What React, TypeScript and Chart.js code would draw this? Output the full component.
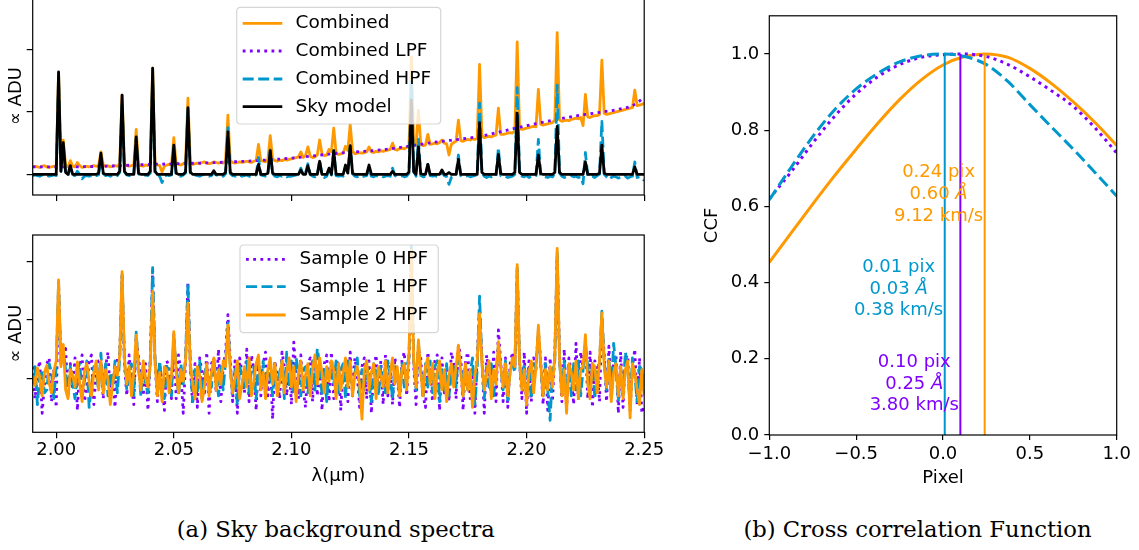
import React, { useEffect, useRef } from 'react';
import { Chart, registerables } from 'chart.js';

Chart.register(...registerables);

const FONT = "'DejaVu Sans', sans-serif";
const SERIF = "'DejaVu Serif', serif";
const ORANGE = '#ff9900';
const BLUE = '#0097cc';
const PURPLE = '#7f00ff';
const BLACK = '#000000';

// ---------- wavelength grid (µm) ----------
const LAMBDA = [
  1.990, 1.991, 1.992, 1.993, 1.994, 1.995, 1.996, 1.997, 1.998, 1.999,
  2.000, 2.001, 2.002, 2.003, 2.004, 2.005, 2.006, 2.007, 2.008, 2.009,
  2.010, 2.011, 2.012, 2.013, 2.014, 2.015, 2.016, 2.017, 2.018, 2.019,
  2.020, 2.021, 2.022, 2.023, 2.024, 2.025, 2.026, 2.027, 2.028, 2.029,
  2.030, 2.031, 2.032, 2.033, 2.034, 2.035, 2.036, 2.037, 2.038, 2.039,
  2.040, 2.041, 2.042, 2.043, 2.044, 2.045, 2.046, 2.047, 2.048, 2.049,
  2.050, 2.051, 2.052, 2.053, 2.054, 2.055, 2.056, 2.057, 2.058, 2.059,
  2.060, 2.061, 2.062, 2.063, 2.064, 2.065, 2.066, 2.067, 2.068, 2.069,
  2.070, 2.071, 2.072, 2.073, 2.074, 2.075, 2.076, 2.077, 2.078, 2.079,
  2.080, 2.081, 2.082, 2.083, 2.084, 2.085, 2.086, 2.087, 2.088, 2.089,
  2.090, 2.091, 2.092, 2.093, 2.094, 2.095, 2.096, 2.097, 2.098, 2.099,
  2.100, 2.101, 2.102, 2.103, 2.104, 2.105, 2.106, 2.107, 2.108, 2.109,
  2.110, 2.111, 2.112, 2.113, 2.114, 2.115, 2.116, 2.117, 2.118, 2.119,
  2.120, 2.121, 2.122, 2.123, 2.124, 2.125, 2.126, 2.127, 2.128, 2.129,
  2.130, 2.131, 2.132, 2.133, 2.134, 2.135, 2.136, 2.137, 2.138, 2.139,
  2.140, 2.141, 2.142, 2.143, 2.144, 2.145, 2.146, 2.147, 2.148, 2.149,
  2.150, 2.151, 2.152, 2.153, 2.154, 2.155, 2.156, 2.157, 2.158, 2.159,
  2.160, 2.161, 2.162, 2.163, 2.164, 2.165, 2.166, 2.167, 2.168, 2.169,
  2.170, 2.171, 2.172, 2.173, 2.174, 2.175, 2.176, 2.177, 2.178, 2.179,
  2.180, 2.181, 2.182, 2.183, 2.184, 2.185, 2.186, 2.187, 2.188, 2.189,
  2.190, 2.191, 2.192, 2.193, 2.194, 2.195, 2.196, 2.197, 2.198, 2.199,
  2.200, 2.201, 2.202, 2.203, 2.204, 2.205, 2.206, 2.207, 2.208, 2.209,
  2.210, 2.211, 2.212, 2.213, 2.214, 2.215, 2.216, 2.217, 2.218, 2.219,
  2.220, 2.221, 2.222, 2.223, 2.224, 2.225, 2.226, 2.227, 2.228, 2.229,
  2.230, 2.231, 2.232, 2.233, 2.234, 2.235, 2.236, 2.237, 2.238, 2.239,
  2.240, 2.241, 2.242, 2.243, 2.244, 2.245, 2.246, 2.247, 2.248, 2.249,
  2.250,
];

// ---------- panel (a) top: combined spectra ----------
const COMBINED = [
  0.12, 0.13, 0.12, 0.11, 0.13, 0.14, 0.12, 0.11, 0.12, 0.13,
  0.12, 1.62, 0.18, 0.55, 0.15, 0.12, 0.22, 0.13, 0.12, 0.19,
  0.14, 0.11, 0.12, 0.13, 0.12, 0.13, 0.14, 0.13, 0.14, 0.36,
  0.15, 0.13, 0.14, 0.12, 0.13, 0.14, 0.13, 0.17, 1.27, 0.17,
  0.14, 0.13, 0.14, 0.15, 0.72, 0.16, 0.14, 0.13, 0.15, 0.14,
  0.18, 1.70, 0.19, 0.15, 0.14, 0.04, 0.13, 0.15, 0.16, 0.15,
  0.59, 0.17, 0.16, 0.15, 0.17, 0.20, 1.22, 0.20, 0.16, 0.17,
  0.18, 0.17, 0.19, 0.20, 0.18, 0.17, 0.18, 0.20, 0.19, 0.18,
  0.19, 0.18, 0.22, 0.95, 0.22, 0.19, 0.18, 0.19, 0.20, 0.19,
  0.20, 0.21, 0.20, 0.19, 0.21, 0.22, 0.48, 0.22, 0.21, 0.20,
  0.24, 0.62, 0.25, 0.22, 0.21, 0.23, 0.22, 0.24, 0.23, 0.24,
  0.25, 0.26, 0.27, 0.28, 0.36, 0.27, 0.30, 0.44, 0.29, 0.27,
  0.28, 0.31, 0.55, 0.33, 0.30, 0.31, 0.40, 0.36, 0.74, 0.34,
  0.32, 0.33, 0.34, 0.45, 0.38, 0.80, 0.37, 0.33, 0.34, 0.35,
  0.34, 0.35, 0.36, 0.44, 0.36, 0.35, 0.37, 0.36, 0.38, 0.37,
  0.38, 0.39, 0.40, 0.50, 0.40, 0.39, 0.41, 0.42, 0.41, 0.43,
  0.46, 1.88, 0.50, 0.47, 1.03, 0.48, 0.46, 0.47, 0.64, 0.48,
  0.49, 0.50, 0.49, 0.51, 0.55, 0.50, 0.49, 0.31, 0.48, 0.51,
  0.53, 0.87, 0.54, 0.53, 0.55, 0.56, 0.55, 0.57, 0.56, 0.58,
  1.76, 0.62, 0.59, 0.60, 0.61, 0.60, 0.62, 0.63, 1.06, 0.64,
  0.64, 0.65, 0.66, 0.67, 0.66, 0.70, 2.12, 0.74, 0.72, 0.73,
  0.74, 0.75, 0.76, 0.77, 0.76, 1.36, 0.80, 0.79, 0.80, 0.81,
  0.82, 0.83, 0.87, 2.27, 0.87, 0.85, 0.86, 0.87, 0.86, 0.88,
  0.89, 0.90, 0.89, 0.91, 0.78, 1.28, 0.92, 0.91, 0.93, 0.94,
  0.94, 0.96, 1.83, 0.98, 0.96, 0.97, 0.98, 0.99, 1.00, 1.01,
  1.02, 1.03, 1.04, 1.05, 1.06, 1.07, 1.35, 1.10, 1.11, 1.12,
  1.14,
];
const LPF_X = [1.99, 2.00, 2.02, 2.04, 2.06, 2.08, 2.10, 2.12, 2.14, 2.16, 2.18, 2.20, 2.22, 2.24, 2.245, 2.25];
const LPF_Y = [0.12, 0.12, 0.13, 0.16, 0.18, 0.21, 0.26, 0.34, 0.40, 0.51, 0.61, 0.78, 0.93, 1.05, 1.10, 1.23];
const HPF = [
  -0.02, -0.01, -0.02, -0.03, -0.01, 0.00, -0.02, -0.03, -0.02, -0.01,
  -0.02, 1.50, 0.05, 0.43, 0.02, -0.02, 0.10, -0.01, -0.02, 0.05,
  0.00, -0.07, -0.03, -0.02, -0.03, -0.02, -0.01, -0.02, -0.01, 0.23,
  0.01, -0.02, -0.01, -0.03, -0.02, -0.01, -0.02, 0.03, 1.14, 0.04,
  -0.01, -0.02, -0.01, 0.00, 0.58, 0.01, -0.02, -0.03, -0.01, -0.02,
  0.02, 1.54, 0.03, -0.02, -0.03, -0.13, -0.03, -0.01, -0.02, -0.01,
  0.40, -0.01, -0.02, -0.03, -0.01, 0.02, 1.04, 0.02, -0.02, -0.01,
  -0.02, -0.03, -0.01, 0.00, -0.02, -0.03, -0.02, 0.02, -0.01, -0.02,
  -0.01, -0.03, 0.01, 0.75, 0.01, -0.02, -0.03, -0.02, -0.01, -0.03,
  -0.02, -0.01, -0.03, -0.04, -0.02, -0.01, 0.27, -0.01, -0.02, -0.03,
  0.00, 0.39, 0.01, -0.03, -0.04, -0.02, -0.03, -0.02, -0.04, -0.03,
  -0.03, -0.02, -0.01, -0.02, 0.10, -0.01, 0.02, 0.17, 0.00, -0.03,
  -0.04, -0.02, 0.23, -0.01, -0.05, -0.03, 0.07, -0.01, 0.38, -0.02,
  -0.03, -0.02, -0.03, 0.12, 0.02, 0.45, 0.01, -0.03, -0.04, -0.02,
  -0.04, -0.03, -0.02, 0.09, -0.03, -0.04, -0.02, -0.03, -0.02, -0.04,
  -0.03, -0.02, -0.03, 0.10, -0.02, -0.04, -0.03, -0.02, -0.04, -0.03,
  0.02, 1.48, 0.05, -0.03, 0.56, -0.02, -0.04, -0.03, 0.16, -0.02,
  -0.03, -0.02, -0.04, -0.03, 0.04, -0.02, -0.04, -0.16, -0.05, -0.03,
  -0.02, 0.31, -0.02, -0.04, -0.03, -0.02, -0.04, -0.03, -0.02, 0.00,
  1.14, 0.02, -0.03, -0.05, -0.03, -0.04, -0.02, -0.03, 0.43, -0.02,
  -0.04, -0.03, -0.05, -0.04, -0.03, 0.00, 1.39, 0.03, -0.03, -0.04,
  -0.02, -0.05, -0.03, -0.04, -0.02, 0.56, -0.01, -0.03, -0.04, -0.05,
  -0.03, -0.04, 0.02, 1.43, 0.02, -0.03, -0.05, -0.04, -0.03, -0.02,
  -0.04, -0.03, -0.05, -0.04, -0.15, 0.35, -0.02, -0.04, -0.03, -0.05,
  -0.02, 0.00, 0.85, 0.00, -0.04, -0.08, -0.05, -0.03, -0.04, -0.06,
  -0.04, -0.05, -0.03, -0.06, -0.04, -0.03, 0.20, -0.05, -0.04, -0.06,
  -0.10,
];
const SKY = [
  0, 0, 0, 0, 0, 0, 0, 0, 0, 0,
  0, 1.64, 0.05, 0.51, 0.03, 0, 0.14, 0, 0, 0,
  0, 0, 0, 0, 0, 0, 0, 0, 0.02, 0.34,
  0.02, 0, 0, 0, 0, 0, 0, 0.05, 1.27, 0.05,
  0, 0, 0, 0, 0.60, 0.02, 0, 0, 0, 0,
  0.05, 1.70, 0.05, 0, 0, 0, 0, 0, 0, 0,
  0.47, 0.02, 0, 0, 0, 0.04, 1.07, 0.04, 0, 0,
  0, 0, 0, 0, 0, 0, 0, 0.06, 0, 0,
  0, 0, 0.03, 0.68, 0.03, 0, 0, 0, 0, 0,
  0, 0, 0, 0, 0, 0, 0.16, 0, 0, 0,
  0.02, 0.38, 0.02, 0, 0, 0, 0, 0, 0, 0,
  0, 0, 0, 0, 0.07, 0, 0, 0.14, 0, 0,
  0, 0, 0.21, 0, 0, 0, 0.10, 0, 0.38, 0,
  0, 0, 0, 0.15, 0.02, 0.46, 0.02, 0, 0, 0,
  0, 0, 0, 0.15, 0, 0, 0, 0, 0, 0,
  0, 0, 0, 0.05, 0, 0, 0, 0, 0, 0,
  0.04, 1.19, 0.04, 0, 0.44, 0.01, 0, 0, 0.16, 0,
  0, 0, 0, 0, 0.07, 0, 0, 0.03, 0, 0,
  0, 0.24, 0, 0, 0, 0, 0, 0, 0, 0,
  0.83, 0.03, 0, 0, 0, 0, 0, 0, 0.32, 0.01,
  0, 0, 0, 0, 0, 0.03, 0.98, 0.03, 0, 0,
  0, 0, 0, 0, 0, 0.31, 0.01, 0, 0, 0,
  0, 0, 0.03, 0.77, 0.03, 0, 0, 0, 0, 0,
  0, 0, 0, 0, 0, 0.20, 0, 0, 0, 0,
  0, 0.02, 0.47, 0.02, 0, 0, 0, 0, 0, 0,
  0, 0, 0, 0, 0, 0, 0.12, 0, 0, 0,
  0,
];

// ---------- panel (a) bottom: per-sample HPF spectra ----------
const SAMPLE0 = [
  0.20, -0.35, 0.10, 0.30, -0.60, -0.10, 0.25, 0.35, -0.40, 0.15,
  -0.50, 1.60, 0.30, 0.45, 0.51, -0.30, 0.25, -0.20, 0.35, -0.55,
  0.20, 0.40, -0.40, -0.15, 0.30, 0.40, -0.45, 0.10, 0.30, 0.30,
  -0.35, 0.20, 0.45, -0.30, 0.10, -0.50, 0.35, 0.40, 1.75, 0.25,
  -0.30, 0.40, -0.15, -0.45, 0.70, 0.35, 0.05, -0.30, 0.25, -0.55,
  0.35, 1.85, 0.30, -0.40, 0.25, -0.10, -0.55, 0.30, 0.20, -0.35,
  0.75, -0.35, 0.40, 0.10, -0.60, 0.30, 1.65, 0.20, -0.45, 0.25,
  -0.50, 0.35, 0.10, -0.30, 0.45, -0.60, 0.25, 0.35, -0.25, 0.50,
  -0.40, 0.20, 0.45, 1.09, 0.30, -0.40, 0.30, -0.60, 0.35, 0.10,
  -0.25, 0.50, -0.40, 0.40, 0.15, -0.55, 0.35, -0.30, 0.25, 0.45,
  -0.30, 0.25, -0.70, 0.30, 0.05, -0.35, 0.45, 0.20, -0.30, 0.30,
  -0.45, 0.62, 0.10, -0.35, 0.40, -0.20, -0.50, 0.25, 0.35, -0.40,
  0.35, -0.30, 0.30, -0.55, 0.25, 0.40, -0.40, 0.45, -0.35, 0.20,
  0.30, -0.55, 0.25, 0.10, -0.40, 0.45, -0.30, 0.35, 0.05, -0.50,
  0.20, 0.35, -0.35, 0.30, -0.60, 0.15, 0.40, -0.25, 0.30, -0.45,
  0.40, -0.30, 0.20, -0.45, 0.35, 0.10, -0.50, 0.30, 0.45, -0.30,
  0.30, 2.00, 0.20, -0.45, 0.50, 0.35, -0.30, -0.50, 0.45, 0.10,
  -0.40, 0.30, 0.40, -0.55, 0.35, -0.25, 0.20, -0.40, 0.45, 0.25,
  -0.35, 0.57, 0.40, -0.55, 0.30, 0.45, -0.35, 0.20, -0.60, 0.40,
  1.20, 0.35, -0.60, 0.40, 0.10, -0.30, 0.45, -0.40, 0.83, 0.30,
  -0.40, 0.35, -0.50, 0.25, 0.45, 0.20, 1.85, 0.30, -0.35, 0.45,
  -0.60, 0.30, -0.40, 0.35, 0.25, 0.80, 0.30, -0.45, 0.35, -0.55,
  0.35, -0.40, 0.45, 2.10, 0.40, -0.40, 0.50, -0.55, 0.35, 0.10,
  -0.45, 0.60, -0.35, 0.45, 0.20, 0.60, -0.35, 0.45, -0.50, 0.30,
  0.20, -0.40, 1.00, 0.40, -0.40, 0.55, -0.35, 0.30, 0.40, -0.60,
  0.45, -0.50, 0.35, 0.40, -0.55, 0.20, 0.50, -0.45, 0.35, -0.60,
  -0.45,
];
const SAMPLE1 = [
  -0.10, 0.20, -0.45, 0.05, 0.15, -0.25, -0.20, 0.25, 0.10, -0.35,
  0.20, 1.65, 0.25, 0.50, 0.15, -0.30, 0.20, -0.10, -0.35, 0.15,
  0.25, -0.25, -0.05, 0.30, -0.50, -0.15, 0.20, 0.10, -0.20, 0.43,
  -0.20, 0.25, -0.30, 0.10, -0.15, 0.30, -0.25, 0.35, 1.78, 0.30,
  -0.20, 0.10, 0.25, -0.30, 0.79, 0.20, -0.30, 0.20, -0.10, -0.25,
  0.30, 1.90, 0.35, -0.15, 0.30, -0.20, -0.35, 0.20, 0.15, -0.30,
  0.70, 0.20, -0.30, 0.25, -0.10, 0.35, 1.62, 0.30, -0.40, 0.15,
  -0.25, 0.30, -0.35, 0.10, 0.20, -0.20, -0.15, 0.30, 0.05, -0.30,
  0.20, -0.20, 0.30, 0.95, 0.20, -0.30, 0.15, -0.45, 0.20, 0.05,
  -0.15, 0.30, -0.25, 0.15, 0.20, -0.35, 0.25, -0.10, 0.30, -0.25,
  0.15, 0.05, -0.30, 0.25, -0.20, 0.10, 0.30, -0.35, 0.45, -0.15,
  0.30, -0.25, 0.35, 0.10, -0.30, 0.15, 0.20, -0.25, 0.05, 0.30,
  -0.20, 0.51, 0.25, -0.30, 0.15, -0.40, 0.20, 0.10, -0.10, 0.30,
  -0.25, 0.15, 0.25, -0.35, 0.30, 0.05, -0.20, 0.10, 0.35, -0.30,
  0.15, -0.20, 0.30, -0.10, -0.40, 0.25, 0.10, -0.30, 0.20, 0.15,
  -0.25, 0.30, 0.05, -0.35, 0.20, 0.10, -0.30, 0.25, -0.15, 0.20,
  0.35, 2.31, 0.30, -0.20, 0.60, 0.15, -0.35, 0.25, -0.15, 0.30,
  -0.25, 0.20, 0.30, -0.40, 0.15, -0.20, 0.25, -0.30, 0.10, 0.20,
  -0.15, 0.45, 0.20, -0.30, 0.25, -0.20, 0.10, 0.35, -0.45, 0.15,
  1.41, 0.30, -0.35, 0.20, -0.15, 0.25, -0.30, 0.10, 0.55, 0.20,
  -0.20, 0.30, -0.40, 0.15, 0.25, 0.10, 1.90, 0.25, -0.15, 0.25,
  -0.30, 0.20, -0.35, 0.25, 0.15, 0.85, 0.20, -0.30, 0.25, -0.20,
  -0.72, 0.15, 0.30, 2.15, 0.30, -0.25, 0.30, -0.35, 0.20, -0.30,
  0.25, -0.20, 0.30, -0.30, 0.15, 0.60, 0.20, -0.20, 0.25, -0.35,
  0.20, 0.25, 1.15, 0.30, -0.20, 0.35, -0.25, 0.60, 0.20, -0.40,
  0.20, -0.30, 0.45, 0.15, -0.45, 0.35, 0.05, -0.40, 0.20, 0.15,
  -0.25,
];
const SAMPLE2 = [
  0.05, -0.12, 0.18, 0.02, -0.30, 0.10, 0.22, -0.08, -0.25, 0.12,
  0.30, 1.69, 0.20, 0.58, -0.20, -0.35, 0.15, 0.05, -0.15, 0.28,
  -0.10, -0.40, 0.12, 0.25, -0.05, -0.30, 0.10, 0.30, -0.20, 0.30,
  -0.25, 0.15, -0.02, -0.45, -0.10, 0.20, 0.05, 0.40, 1.83, 0.35,
  -0.10, 0.20, -0.30, 0.10, 0.74, 0.15, -0.20, 0.30, 0.00, -0.15,
  0.25, 1.49, 0.30, -0.30, 0.10, -0.40, 0.20, 0.15, -0.25, 0.05,
  0.80, 0.10, -0.25, 0.15, -0.05, 0.30, 1.29, 0.25, -0.10, -0.35,
  0.20, 0.05, -0.40, -0.15, 0.25, -0.30, 0.10, 0.35, -0.20, 0.15,
  -0.10, 0.30, 0.20, 0.91, 0.15, -0.25, 0.00, 0.30, -0.35, -0.10,
  0.20, -0.15, 0.35, -0.30, -0.05, 0.25, 0.40, -0.20, 0.10, -0.35,
  0.15, 0.35, -0.10, 0.25, -0.30, -0.05, 0.30, -0.25, 0.10, 0.35,
  -0.15, 0.20, -0.40, 0.10, 0.30, -0.20, 0.05, 0.25, -0.30, 0.15,
  0.40, -0.10, 0.35, 0.10, -0.25, 0.20, -0.05, 0.30, 0.15, -0.35,
  0.25, -0.20, 0.10, 0.35, -0.15, 0.30, -0.30, 0.05, 0.20, -0.10,
  -0.70, 0.15, 0.30, -0.20, 0.10, 0.25, -0.35, 0.20, 0.05, -0.15,
  0.30, -0.25, 0.10, 0.35, -0.10, 0.20, -0.30, 0.15, 0.25, -0.20,
  0.40, 2.20, 0.30, -0.15, 0.66, 0.10, -0.30, 0.20, 0.35, -0.10,
  0.25, -0.35, 0.10, 0.30, -0.20, 0.15, -0.40, 0.05, 0.25, -0.15,
  0.20, 0.57, 0.10, -0.30, 0.25, -0.20, 0.15, -0.50, 0.05, 0.30,
  1.11, 0.25, -0.20, 0.10, 0.30, -0.35, 0.15, -0.10, 0.63, 0.20,
  -0.15, 0.25, -0.30, 0.10, 0.35, 0.20, 1.95, 0.30, -0.20, 0.15,
  -0.45, 0.10, 0.30, -0.25, 0.20, 0.91, 0.25, -0.30, 0.15, -0.20,
  0.20, -0.15, 0.40, 2.23, 0.35, -0.30, 0.15, -0.60, 0.25, 0.10,
  -0.20, 0.30, -0.35, 0.15, 0.20, 0.75, -0.10, -0.35, 0.25, 0.20,
  -0.25, 0.30, 1.12, 0.20, -0.15, 0.30, -0.40, 0.10, 0.25, -0.30,
  0.20, -0.35, 0.15, 0.30, -0.68, 0.25, 0.10, -0.20, -0.45, 0.15,
  -0.30,
];

const X_TICKS = [2.0, 2.05, 2.1, 2.15, 2.2, 2.25];
const X_TICK_LABELS = ['2.00', '2.05', '2.10', '2.15', '2.20', '2.25'];
const Y_TICKS_LEFT = [0, 1, 2];
const LEGEND_TOP = ['Combined', 'Combined LPF', 'Combined HPF', 'Sky model'];
const LEGEND_BOTTOM = ['Sample 0 HPF', 'Sample 1 HPF', 'Sample 2 HPF'];

// ---------- panel (b): cross-correlation ----------
const CCF_COMB_X = [-1, -0.875, -0.75, -0.625, -0.5, -0.375, -0.25, -0.125, 0, 0.125, 0.24, 0.375, 0.5, 0.625, 0.75, 0.875, 1];
const CCF_COMB_Y = [0.453, 0.53, 0.606, 0.68, 0.75, 0.818, 0.88, 0.932, 0.971, 0.993, 1.0, 0.991, 0.962, 0.922, 0.874, 0.82, 0.76];
const CCF_LPF_X = [-1, -0.875, -0.75, -0.625, -0.5, -0.375, -0.25, -0.125, 0, 0.1, 0.25, 0.375, 0.5, 0.625, 0.75, 0.875, 1];
const CCF_LPF_Y = [0.62, 0.69, 0.766, 0.836, 0.895, 0.94, 0.972, 0.991, 0.998, 1.0, 0.993, 0.972, 0.94, 0.903, 0.862, 0.806, 0.74];
const CCF_HPF_X = [-1, -0.875, -0.75, -0.625, -0.5, -0.375, -0.25, -0.125, 0.01, 0.125, 0.25, 0.375, 0.5, 0.625, 0.75, 0.875, 1];
const CCF_HPF_Y = [0.617, 0.702, 0.783, 0.853, 0.908, 0.949, 0.979, 0.995, 1.0, 0.993, 0.972, 0.927, 0.867, 0.808, 0.75, 0.689, 0.627];
const CCF_LABELS = ['Combined', 'Combined LPF', 'Combined HPF'];
const SHIFT_PIX = [0.24, 0.01, 0.10];
const SHIFT_PIX_TXT = ['0.24', '0.01', '0.10'];
const SHIFT_ANG = ['0.60', '0.03', '0.25'];
const SHIFT_KMS = ['9.12', '0.38', '3.80'];
const SHIFT_COLORS = [ORANGE, BLUE, PURPLE];
const ANNOT_Y = [0.632, 0.383, 0.134];
const PEAK_TOP = 1.0;
const CCF_X_TICKS = [-1, -0.5, 0, 0.5, 1];
const CCF_X_LABELS = ['\u22121.0', '\u22120.5', '0.0', '0.5', '1.0'];
const CCF_Y_TICKS = [0, 0.2, 0.4, 0.6, 0.8, 1.0];
const CCF_Y_LABELS = ['0.0', '0.2', '0.4', '0.6', '0.8', '1.0'];

const DOT = [2.8, 4.4];
const DASH = [11, 4.5];

function pts(xs: number[], ys: number[]) {
  return xs.map((x, i) => ({ x, y: ys[i] }));
}

const frameBox = {
  id: 'frameBox',
  afterDraw(chart: any) {
    const { ctx, chartArea: a } = chart;
    ctx.save();
    ctx.strokeStyle = '#000';
    ctx.lineWidth = 1.2;
    ctx.setLineDash([]);
    ctx.strokeRect(a.left, a.top, a.right - a.left, a.bottom - a.top);
    ctx.restore();
  },
};

const boxLegend = {
  id: 'boxLegend',
  afterDatasetsDraw(chart: any, _args: any, o: any) {
    if (!o || !o.rows) return;
    const ctx = chart.ctx;
    ctx.save();
    const r = 4;
    ctx.beginPath();
    ctx.moveTo(o.x + r, o.y);
    ctx.lineTo(o.x + o.w - r, o.y);
    ctx.quadraticCurveTo(o.x + o.w, o.y, o.x + o.w, o.y + r);
    ctx.lineTo(o.x + o.w, o.y + o.h - r);
    ctx.quadraticCurveTo(o.x + o.w, o.y + o.h, o.x + o.w - r, o.y + o.h);
    ctx.lineTo(o.x + r, o.y + o.h);
    ctx.quadraticCurveTo(o.x, o.y + o.h, o.x, o.y + o.h - r);
    ctx.lineTo(o.x, o.y + r);
    ctx.quadraticCurveTo(o.x, o.y, o.x + r, o.y);
    ctx.closePath();
    ctx.fillStyle = 'rgba(255,255,255,0.8)';
    ctx.fill();
    ctx.strokeStyle = 'rgba(204,204,204,0.8)';
    ctx.lineWidth = 1.2;
    ctx.stroke();
    chart.data.datasets.forEach((ds: any, k: number) => {
      const yy = o.rows[k];
      ctx.beginPath();
      ctx.setLineDash(ds.borderDash || []);
      ctx.lineCap = 'butt';
      ctx.strokeStyle = ds.borderColor;
      ctx.lineWidth = ds.borderWidth;
      ctx.moveTo(o.sx0, yy);
      ctx.lineTo(o.sx1, yy);
      ctx.stroke();
      ctx.setLineDash([]);
      ctx.fillStyle = '#000';
      ctx.font = `18.5px ${FONT}`;
      ctx.textBaseline = 'middle';
      ctx.textAlign = 'left';
      ctx.fillText(ds.label, o.tx, yy);
    });
    ctx.restore();
  },
};

const shiftNotes = {
  id: 'shiftNotes',
  afterDatasetsDraw(chart: any) {
    const { ctx, scales } = chart;
    const xs = scales.x;
    const ys = scales.y;
    ctx.save();
    ctx.textBaseline = 'middle';
    ctx.textAlign = 'left';
    const normal = `18px ${FONT}`;
    const italic = `italic 18px ${FONT}`;
    SHIFT_PIX.forEach((s, k) => {
      const lines = [
        [{ t: `${SHIFT_PIX_TXT[k]} pix`, f: normal }],
        [{ t: `${SHIFT_ANG[k]} `, f: normal }, { t: '\u00c5', f: italic }],
        [{ t: `${SHIFT_KMS[k]} km/s`, f: normal }],
      ];
      const widths = lines.map((parts) =>
        parts.reduce((w, p) => {
          ctx.font = p.f;
          return w + ctx.measureText(p.t).width;
        }, 0)
      );
      const blockW = Math.max(...widths);
      const right = xs.getPixelForValue(s) - 1.5;
      const cx = right - blockW / 2;
      const cy = ys.getPixelForValue(ANNOT_Y[k]);
      ctx.fillStyle = SHIFT_COLORS[k];
      lines.forEach((parts, li) => {
        let x = cx - widths[li] / 2;
        const y = cy + (li - 1) * 21.7;
        parts.forEach((p) => {
          ctx.font = p.f;
          ctx.fillText(p.t, x, y);
          x += ctx.measureText(p.t).width;
        });
      });
    });
    ctx.restore();
  },
};

function lineDs(label: string, data: any[], color: string, dash: number[] | null, order: number, extra: any = {}) {
  return {
    label,
    data,
    borderColor: color,
    backgroundColor: color,
    borderWidth: 2.8,
    borderDash: dash || [],
    borderJoinStyle: 'round',
    borderCapStyle: 'butt',
    pointRadius: 0,
    tension: 0,
    fill: false,
    order,
    ...extra,
  };
}

function leftConfig(datasets: any[], yMin: number, yMax: number, bottom: boolean, legend: any, padTop: number, xAxisH: number) {
  return {
    type: 'line',
    data: { datasets },
    plugins: [boxLegend, frameBox],
    options: {
      responsive: false,
      animation: false,
      events: [],
      layout: { padding: { left: 0, top: padTop, right: 35.8, bottom: 0 } },
      plugins: { legend: { display: false }, tooltip: { enabled: false }, boxLegend: legend },
      scales: {
        x: {
          type: 'linear',
          min: 1.99,
          max: 2.25,
          afterBuildTicks: (ax: any) => { ax.ticks = X_TICKS.map((v) => ({ value: v })); },
          afterFit: (ax: any) => { ax.height = xAxisH; },
          grid: { drawOnChartArea: false, drawTicks: true, tickLength: 6, color: '#000', lineWidth: 1.2 },
          border: { display: false },
          ticks: {
            display: bottom,
            padding: 1,
            color: '#000',
            autoSkip: false,
            maxRotation: 0,
            font: { family: FONT, size: 18 },
            callback: (_v: any, i: number) => X_TICK_LABELS[i],
          },
          title: { display: bottom, text: '\u03bb(\u03bcm)', color: '#000', font: { family: FONT, size: 18 }, padding: 0 },
        },
        y: {
          type: 'linear',
          min: yMin,
          max: yMax,
          afterBuildTicks: (ax: any) => { ax.ticks = Y_TICKS_LEFT.map((v) => ({ value: v })); },
          afterFit: (ax: any) => { ax.width = 32.7; },
          grid: { drawOnChartArea: false, drawTicks: true, tickLength: 6, color: '#000', lineWidth: 1.2 },
          border: { display: false },
          ticks: { display: false },
          title: { display: true, text: '\u221d ADU', color: '#000', font: { family: FONT, size: 18 }, padding: { top: 6, bottom: 0 } },
        },
      },
    },
  };
}

function ccfConfig() {
  const datasets: any[] = [
    lineDs(CCF_LABELS[0], pts(CCF_COMB_X, CCF_COMB_Y), ORANGE, null, 5, { cubicInterpolationMode: 'monotone', borderWidth: 3 }),
    lineDs(CCF_LABELS[1], pts(CCF_LPF_X, CCF_LPF_Y), PURPLE, [3, 4.3], 4, { cubicInterpolationMode: 'monotone', borderWidth: 3 }),
    lineDs(CCF_LABELS[2], pts(CCF_HPF_X, CCF_HPF_Y), BLUE, [12, 5], 3, { cubicInterpolationMode: 'monotone', borderWidth: 3 }),
  ];
  SHIFT_PIX.forEach((s, k) => {
    datasets.push(lineDs(`shift ${k}`, [{ x: s, y: 0 }, { x: s, y: PEAK_TOP }], SHIFT_COLORS[k], null, 0, { borderWidth: 2 }));
  });
  return {
    type: 'line',
    data: { datasets },
    plugins: [shiftNotes, frameBox],
    options: {
      responsive: false,
      animation: false,
      events: [],
      layout: { padding: { left: 0, top: 4, right: 22.3, bottom: 0 } },
      plugins: { legend: { display: false }, tooltip: { enabled: false } },
      scales: {
        x: {
          type: 'linear',
          min: -1,
          max: 1,
          afterBuildTicks: (ax: any) => { ax.ticks = CCF_X_TICKS.map((v) => ({ value: v })); },
          afterFit: (ax: any) => { ax.height = 54; },
          grid: { drawOnChartArea: false, drawTicks: true, tickLength: 5, color: '#000', lineWidth: 1.2 },
          border: { display: false },
          ticks: {
            padding: 4,
            color: '#000',
            autoSkip: false,
            maxRotation: 0,
            font: { family: FONT, size: 18 },
            callback: (_v: any, i: number) => CCF_X_LABELS[i],
          },
          title: { display: true, text: 'Pixel', color: '#000', font: { family: FONT, size: 18 }, padding: 0 },
        },
        y: {
          type: 'linear',
          min: 0,
          max: 1.1,
          afterBuildTicks: (ax: any) => { ax.ticks = CCF_Y_TICKS.map((v) => ({ value: v })); },
          afterFit: (ax: any) => { ax.width = 79.3; },
          grid: { drawOnChartArea: false, drawTicks: true, tickLength: 5, color: '#000', lineWidth: 1.2 },
          border: { display: false },
          ticks: {
            padding: 5,
            color: '#000',
            font: { family: FONT, size: 18 },
            callback: (_v: any, i: number) => CCF_Y_LABELS[i],
          },
          title: { display: true, text: 'CCF', color: '#000', font: { family: FONT, size: 18 }, padding: { top: 11.2, bottom: 0 } },
        },
      },
    },
  };
}

export default function App() {
  const topRef = useRef<HTMLCanvasElement>(null);
  const botRef = useRef<HTMLCanvasElement>(null);
  const ccfRef = useRef<HTMLCanvasElement>(null);

  useEffect(() => {
    Chart.defaults.font.family = FONT;
    const topData = [
      lineDs(LEGEND_TOP[0], pts(LAMBDA, COMBINED), ORANGE, null, 3),
      lineDs(LEGEND_TOP[1], pts(LPF_X, LPF_Y), PURPLE, DOT, 2, { cubicInterpolationMode: 'monotone' }),
      lineDs(LEGEND_TOP[2], pts(LAMBDA, HPF), BLUE, DASH, 1),
      lineDs(LEGEND_TOP[3], pts(LAMBDA, SKY), BLACK, null, 0),
    ];
    const botData = [
      lineDs(LEGEND_BOTTOM[0], pts(LAMBDA, SAMPLE0), PURPLE, DOT, 2),
      lineDs(LEGEND_BOTTOM[1], pts(LAMBDA, SAMPLE1), BLUE, DASH, 1),
      lineDs(LEGEND_BOTTOM[2], pts(LAMBDA, SAMPLE2), ORANGE, null, 0),
    ];
    const topLegend = { x: 236.7, y: 10.3, w: 204, h: 116.7, rows: [26.3, 54, 82, 109.7], sx0: 242.7, sx1: 282.3, tx: 295.5 };
    const botLegend = { x: 240, y: 20, w: 198.3, h: 87.7, rows: [34.3, 61.7, 90], sx0: 246, sx1: 285.7, tx: 299.5 };
    const charts = [
      new Chart(topRef.current as any, leftConfig(topData, -0.33, 2.84, false, topLegend, 0, 10) as any),
      new Chart(botRef.current as any, leftConfig(botData, -0.926, 2.458, true, botLegend, 10, 54.7) as any),
      new Chart(ccfRef.current as any, ccfConfig() as any),
    ];
    return () => charts.forEach((c) => c.destroy());
  }, []);

  const cap: React.CSSProperties = {
    position: 'absolute',
    fontFamily: SERIF,
    fontSize: 22.7,
    lineHeight: '22.7px',
    color: '#000',
    textAlign: 'center',
    whiteSpace: 'nowrap',
  };

  return (
    <div style={{ position: 'absolute', left: 0, top: 0, width: 1139, height: 550, background: '#fff', overflow: 'hidden' }}>
      <canvas ref={topRef} width={680} height={208} style={{ position: 'absolute', left: 0, top: -3 }} />
      <canvas ref={botRef} width={680} height={262} style={{ position: 'absolute', left: 0, top: 225 }} />
      <canvas ref={ccfRef} width={449} height={489} style={{ position: 'absolute', left: 690, top: 0 }} />
      <div style={{ ...cap, left: 135.8, width: 400, top: 518 }}>(a) Sky background spectra</div>
      <div style={{ ...cap, left: 717.5, width: 400, top: 518 }}>(b) Cross correlation Function</div>
    </div>
  );
}
